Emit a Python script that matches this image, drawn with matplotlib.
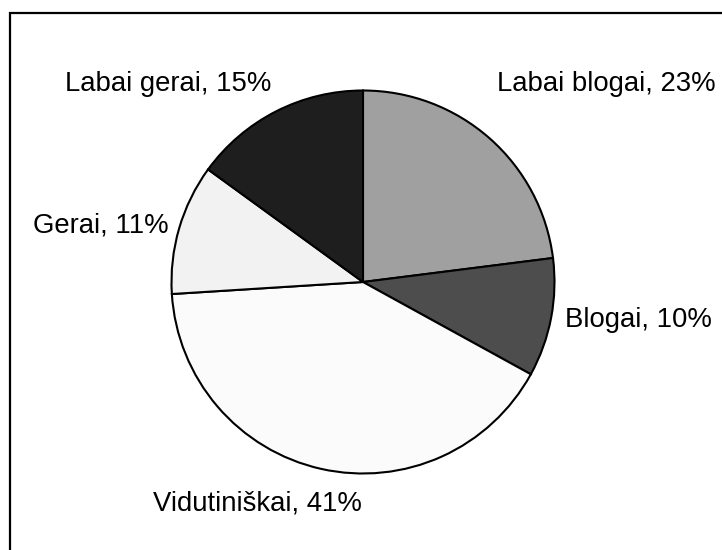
import matplotlib.pyplot as plt
from matplotlib.patches import Rectangle

plt.rcParams['font.family'] = ['Liberation Sans', 'DejaVu Sans']

# duomenys
categories = ["Labai blogai", "Blogai", "Vidutiniškai", "Gerai", "Labai gerai"]
values = [23, 10, 41, 11, 15]
colors = ["#a0a0a0", "#4d4d4d", "#fbfbfb", "#f2f2f2", "#1e1e1e"]

# label positions (data coords, radius = 1), left-aligned, baseline
label_pos = [(0.700, 0.995), (1.055, -0.235), (-1.097, -1.191),
             (-1.723, 0.256), (-1.556, 0.995)]


def main():
    W, H = 722, 550
    fig = plt.figure(figsize=(W / 100, H / 100), dpi=100)

    # pie centre and radius in pixels
    cx, cy, r = 363, 282, 191.5
    ax = fig.add_axes([(cx - r) / W, (H - cy - r) / H, 2 * r / W, 2 * r / H])

    ax.pie(values, colors=colors, startangle=90, counterclock=False,
           wedgeprops=dict(edgecolor="black", linewidth=1.5), radius=1)
    ax.set_xlim(-1, 1)
    ax.set_ylim(-1, 1)
    ax.set_aspect("auto")
    ax.axis("off")

    for name, v, (x, y) in zip(categories, values, label_pos):
        ax.text(x, y, f"{name}, {v}%", ha="left", va="baseline",
                fontsize=19.8, color="black", clip_on=False)

    # chart border (only top and left visible)
    fig.patches.append(Rectangle((10 / W, -0.1), 1.2, 1 - 13 / H + 0.1,
                                 transform=fig.transFigure, fill=False,
                                 edgecolor="black", linewidth=1.6))

    fig.savefig("out.png", dpi=100)


if __name__ == '__main__':
    main()
